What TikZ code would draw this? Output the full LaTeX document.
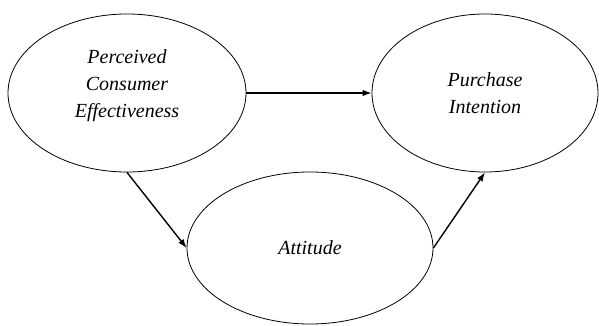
\documentclass[tikz,border=0pt]{standalone}
\usepackage{fontspec}
\setmainfont{Liberation Serif}
\usetikzlibrary{arrows.meta,positioning,shapes.geometric}

\begin{document}
\begin{tikzpicture}[x=1pt, y=-1pt, >={Latex[length=9pt,width=6.5pt]},
  construct/.style={draw,ellipse,inner sep=0pt,line width=0.8pt,font=\fontsize{20}{27}\selectfont\itshape,align=center},
  link/.style={->,line width=1.4pt}]
\useasboundingbox (0,0) rectangle (599,326);
\node[construct, minimum width=238pt, minimum height=158pt, text depth=19pt] (pce) at (127,93) {Perceived\\Consumer\\Effectiveness};
\node[construct, minimum width=226pt, minimum height=158pt] (pi) at (485,93) {Purchase\\Intention};
\node[construct, minimum width=246pt, minimum height=152pt] (att) at (310,248) {Attitude};
\draw[link] (pce) -- (pi);
\draw[link] (pce.south) -- (att.west);
\draw[link] (att.east) -- (pi.south);
\end{tikzpicture}
\end{document}
